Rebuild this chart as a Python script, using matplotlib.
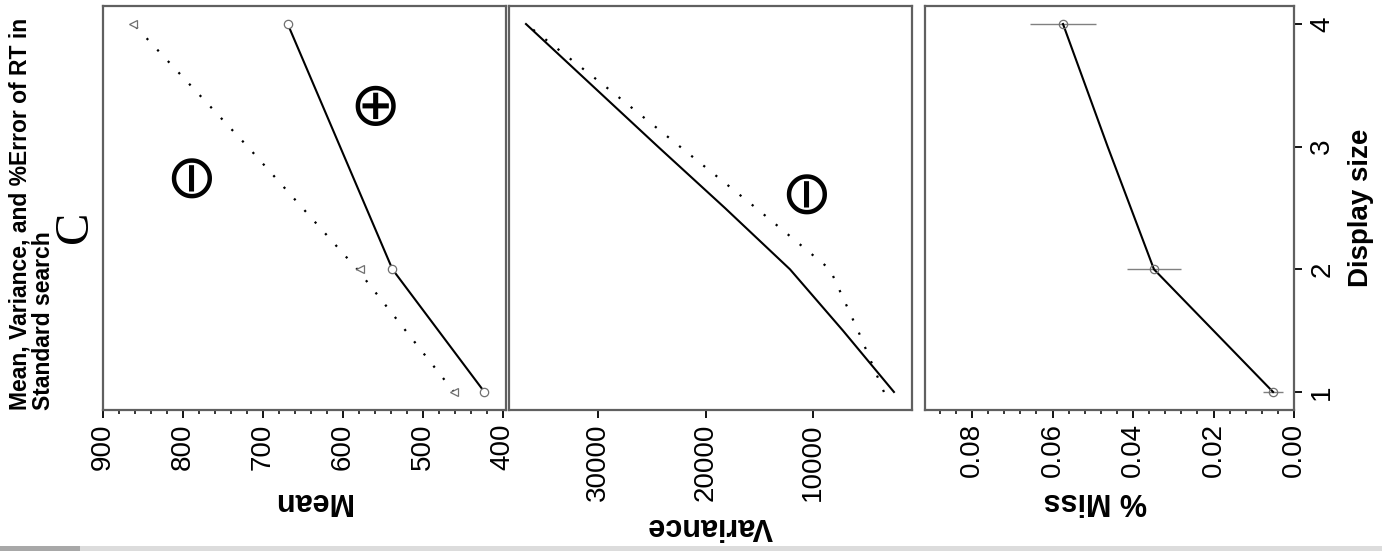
import matplotlib
matplotlib.use('Agg')
import matplotlib.pyplot as plt
from matplotlib.ticker import MultipleLocator, FixedLocator, NullLocator
from matplotlib.patches import Rectangle

# ── data ──────────────────────────────────────────────────────────────────
obs_size   = [1, 2, 4]
mean_obs   = [423, 538, 669]          # circles, solid line
mean_tri   = [461, 578, 862]          # triangles
model_size = [1, 2, 3, 4]
mean_model = [461, 582, 719, 862]     # dotted line

var_size   = [1, 1.5, 2, 2.5, 3, 3.5, 4]
var_solid  = [2470, 7210, 12140, 18190, 24420, 30560, 36700]
var_dotted = [3400, 5810, 8420, 15300, 22370, 29440, 36700]

miss_obs   = [0.0052, 0.0348, 0.0574]
miss_err   = [0.0025, 0.0067, 0.0083]
miss_line  = [0.0052, 0.0348, 0.0463, 0.0574]

mean_ticks = [900, 800, 700, 600, 500, 400]
var_ticks  = [30000, 20000, 10000]
miss_ticks = [0.08, 0.06, 0.04, 0.02, 0.00]
size_ticks = [1, 2, 3, 4]

W, H = 1382, 551
plt.rcParams['font.family'] = ['Liberation Sans', 'DejaVu Sans']

fig = plt.figure(figsize=(W / 100, H / 100), dpi=100)


def box(x0, y0, x1, y1):
    return [x0 / W, 1 - y1 / H, (x1 - x0) / W, (y1 - y0) / H]


def px(x, y):
    return x / W, 1 - y / H


FRAME = '#606060'
MARK = '#707070'
ylim = (0.853, 4.147)


def style(ax, xlim, ticks, fmt):
    ax.set_xlim(*xlim)
    ax.set_ylim(*ylim)
    ax.xaxis.set_major_locator(FixedLocator(ticks))
    ax.set_xticklabels([fmt(t) for t in ticks], rotation=90, fontsize=20)
    ax.tick_params(axis='x', direction='out', length=6, width=1.3,
                   pad=3.5, colors='black')
    ax.tick_params(axis='x', which='minor', direction='out', length=3,
                   width=1.1)
    ax.yaxis.set_major_locator(NullLocator())
    for s in ax.spines.values():
        s.set_color(FRAME)
        s.set_linewidth(1.6)


# ── panel 1: Mean ─────────────────────────────────────────────────────────
ax1 = fig.add_axes(box(103, 6, 506, 410))
style(ax1, (900, 396), mean_ticks, lambda t: f'{t:d}')
ax1.xaxis.set_minor_locator(MultipleLocator(20))
ax1.plot(mean_model, model_size, color='black', lw=1.6, ls=(0, (1, 6)))
ax1.plot(mean_obs, obs_size, color='black', lw=1.5)
ax1.plot(mean_obs, obs_size, 'o', ms=6, mfc='white', mec=MARK, mew=0.9)
ax1.plot(mean_tri, obs_size, '<', ms=6, mfc='white', mec=MARK, mew=0.9)

# ── panel 2: Variance ─────────────────────────────────────────────────────
ax2 = fig.add_axes(box(509, 6, 912, 410))
style(ax2, (38280, 790), var_ticks, lambda t: f'{t:d}')
ax2.plot(var_dotted, var_size, color='black', lw=1.6, ls=(0, (1, 6)))
ax2.plot(var_solid, var_size, color='black', lw=1.5)

# ── panel 3: % Miss ───────────────────────────────────────────────────────
ax3 = fig.add_axes(box(925, 6, 1294, 410))
style(ax3, (0.0917, 0.0), miss_ticks, lambda t: f'{t:.2f}')
ax3.xaxis.set_minor_locator(MultipleLocator(0.004))
ax3.errorbar(miss_obs, obs_size, xerr=miss_err, fmt='none',
             ecolor='#808080', elinewidth=1.0, capsize=0)
ax3.plot(miss_line, model_size, color='black', lw=1.5)
ax3.plot(miss_obs, obs_size, 'o', ms=6, mfc='none', mec=MARK, mew=0.9)
ax3.yaxis.tick_right()
ax3.yaxis.set_major_locator(FixedLocator(size_ticks))
ax3.set_yticklabels([str(t) for t in size_ticks], rotation=90,
                    fontsize=20, va='center')
ax3.tick_params(axis='y', direction='out', length=6, width=1.3, pad=5)

# ── axis labels (rotated layout) ──────────────────────────────────────────
lab = dict(fontsize=22, fontweight='bold', ha='center', va='center')
fig.text(*px(312, 501), 'Mean', rotation=180, **lab)
fig.text(*px(710, 526), 'Variance', rotation=180, **lab)
fig.text(*px(1095, 501), '% Miss', rotation=180, **lab)
fig.text(*px(1361, 208), 'Display size', rotation=90, fontsize=20,
         fontweight='bold', ha='center', va='center')

# title and panel letter
fig.text(*px(32, 410), 'Mean, Variance, and %Error of RT in\nStandard search',
         rotation=90, fontsize=16.5, fontweight='bold', ha='center',
         va='bottom', multialignment='left', linespacing=1.0)
fig.text(*px(75, 227), 'C', rotation=90, fontsize=35,
         family='Liberation Serif', ha='center', va='center')

# circled signs
sym = dict(fontsize=44, family='DejaVu Sans', ha='center', va='center')
fig.text(*px(375, 108), '\u2295', **sym)
fig.text(*px(190, 172), '\u2296', rotation=90, **sym)
fig.text(*px(805, 188), '\u2296', rotation=90, **sym)

# faint scan strip along the bottom edge
fig.patches.append(Rectangle((0, 0), 1, 5 / H, transform=fig.transFigure,
                             color='#dcdcdc', lw=0, zorder=-1))
fig.patches.append(Rectangle((0, 0), 80 / W, 5 / H, transform=fig.transFigure,
                             color='#a8a8a8', lw=0, zorder=-1))

fig.savefig('out.png', dpi=100)
